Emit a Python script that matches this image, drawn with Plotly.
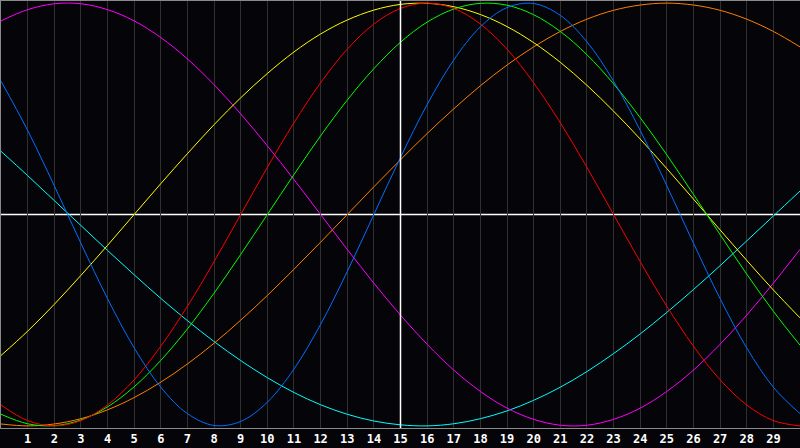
import plotly.graph_objects as go

days = list(range(0, 31))
tick_days = list(range(1, 30))
tick_labels = [str(d) for d in tick_days]

blue = [63.1, 39.8, 13.6, -13.6, -39.8, -63.1, -81.7, -94.2, -99.8, -97.9, -88.8, -73.1, -52.0, -27.0, 0.0,
        27.0, 52.0, 73.1, 88.8, 97.9, 99.8, 94.2, 81.7, 63.1, 39.8, 13.6, -13.6, -39.8, -63.1, -81.7, -94.2]
red = [-90.1, -97.5, -100.0, -97.5, -90.1, -78.2, -62.3, -43.4, -22.3, 0.0, 22.3, 43.4, 62.3, 78.2, 90.1,
       97.5, 100.0, 97.5, 90.1, 78.2, 62.3, 43.4, 22.3, 0.0, -22.3, -43.4, -62.3, -78.2, -90.1, -97.5, -100.0]
green = [-94.5, -99.0, -99.9, -97.2, -91.0, -81.5, -69.0, -54.1, -37.2, -18.9, 0.0, 18.9, 37.2, 54.1, 69.0,
         81.5, 91.0, 97.2, 99.9, 99.0, 94.5, 86.6, 75.6, 61.8, 45.8, 28.2, 9.5, -9.5, -28.2, -45.8, -61.8]
magenta = [91.6, 96.9, 99.7, 99.7, 96.9, 91.6, 83.7, 73.6, 61.4, 47.6, 32.5, 16.5, 0.0, -16.5, -32.5,
           -47.6, -61.4, -73.6, -83.7, -91.6, -96.9, -99.7, -99.7, -96.9, -91.6, -83.7, -73.6, -61.4, -47.6, -32.5, -16.5]
yellow = [-66.7, -55.2, -42.5, -28.8, -14.6, 0.0, 14.6, 28.8, 42.5, 55.2, 66.7, 76.9, 85.4, 92.0, 96.7,
          99.4, 99.9, 98.3, 94.6, 88.9, 81.3, 72.0, 61.1, 48.9, 35.7, 21.7, 7.3, -7.3, -21.7, -35.7, -48.9]
orange = [-99.1, -100.0, -99.1, -96.6, -92.4, -86.6, -79.3, -70.7, -60.9, -50.0, -38.3, -25.9, -13.1, 0.0, 13.1,
          25.9, 38.3, 50.0, 60.9, 70.7, 79.3, 86.6, 92.4, 96.6, 99.1, 100.0, 99.1, 96.6, 92.4, 86.6, 79.3]
cyan = [29.9, 18.4, 6.6, -5.2, -17.0, -28.5, -39.7, -50.2, -60.1, -69.1, -77.2, -84.2, -90.0, -94.5, -97.7,
        -99.5, -100.0, -99.0, -96.6, -92.9, -87.9, -81.7, -74.3, -65.8, -56.5, -46.3, -35.5, -24.2, -12.5, -0.7, 11.1]

series = [
    ("cyan", cyan, "#00ffff"),
    ("orange", orange, "#ff8000"),
    ("magenta", magenta, "#ff00ff"),
    ("yellow", yellow, "#ffff00"),
    ("green", green, "#00ff00"),
    ("red", red, "#ff0000"),
    ("blue", blue, "#0070ff"),
]

BG = "#050408"
fig = go.Figure()
for name, vals, col in series:
    fig.add_trace(go.Scatter(x=days, y=vals, mode="lines", name=name,
                             line=dict(color=col, width=1, shape="spline", smoothing=1.0),
                             hoverinfo="skip"))

fig.add_shape(type="line", xref="x", yref="paper", x0=15, x1=15, y0=0, y1=1,
              line=dict(color="#ffffff", width=1.5), layer="above")
fig.add_shape(type="line", xref="paper", yref="y", x0=0, x1=1, y0=0, y1=0,
              line=dict(color="#ffffff", width=1.5), layer="between")

fig.update_layout(
    width=800, height=448,
    margin=dict(l=1, r=0, t=1, b=20, autoexpand=False),
    paper_bgcolor=BG, plot_bgcolor=BG,
    showlegend=False,
    xaxis=dict(range=[0, 30], tickvals=tick_days, ticktext=tick_labels,
               showgrid=True, gridcolor="#303030", gridwidth=1, zeroline=False,
               showline=True, linecolor="#8a8a8a", linewidth=1, mirror=True,
               ticks="", ticklabelstandoff=0,
               tickfont=dict(family="DejaVu Sans Mono", size=12, color="#ffffff", weight="bold"),
               automargin=False, fixedrange=True),
    yaxis=dict(range=[-101, 101], showgrid=False, zeroline=False, showticklabels=False,
               showline=True, linecolor="#8a8a8a", linewidth=1, ticks="",
               automargin=False, fixedrange=True),
)

fig.write_html("out.html", config={"displayModeBar": False, "staticPlot": True},
               post_script="document.body.style.margin='0';document.body.style.padding='0';"
                           "document.documentElement.style.overflow='hidden';")
